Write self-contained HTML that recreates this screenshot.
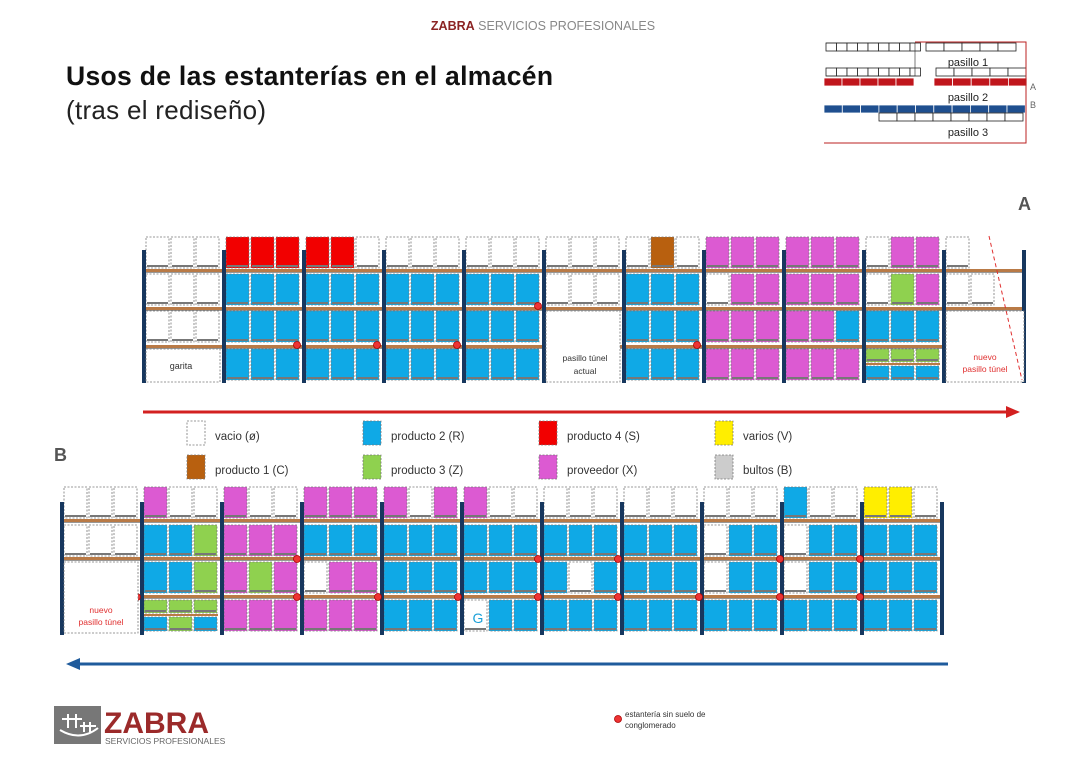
<!DOCTYPE html>
<html><head><meta charset="utf-8"><style>
body{margin:0;background:#fff;}
svg{display:block;font-family:"Liberation Sans","DejaVu Sans",sans-serif;}
</style></head><body>
<svg id="s" width="1086" height="768" viewBox="0 0 1086 768" xmlns="http://www.w3.org/2000/svg">
<text x="543" y="30" text-anchor="middle" font-size="12.5" fill="#888"><tspan fill="#8b2323" font-weight="bold">ZABRA</tspan> SERVICIOS PROFESIONALES</text>
<text x="66" y="85" font-size="26.5" font-weight="bold" fill="#111" textLength="487">Usos de las estanterías en el almacén</text>
<text x="66" y="119" font-size="26" fill="#222" textLength="200">(tras el rediseño)</text>
<g id="mini"></g>
<text x="968" y="66" text-anchor="middle" font-size="11" fill="#222">pasillo 1</text>
<text x="968" y="101" text-anchor="middle" font-size="11" fill="#222">pasillo 2</text>
<text x="968" y="136" text-anchor="middle" font-size="11" fill="#222">pasillo 3</text>
<text x="1030" y="90" font-size="9" fill="#666">A</text>
<text x="1030" y="108" font-size="9" fill="#666">B</text>
<text x="1018" y="210" font-size="18" font-weight="bold" fill="#555">A</text>
<text x="54" y="461" font-size="18" font-weight="bold" fill="#555">B</text>
<g id="racks"></g>
<text x="181" y="369" text-anchor="middle" font-size="9" fill="#333">garita</text>
<text x="585" y="361" text-anchor="middle" font-size="8.5" fill="#333">pasillo túnel</text>
<text x="585" y="374" text-anchor="middle" font-size="8.5" fill="#333">actual</text>
<text x="985" y="360" text-anchor="middle" font-size="8.5" fill="#e03030">nuevo</text>
<text x="985" y="372" text-anchor="middle" font-size="8.5" fill="#e03030">pasillo túnel</text>
<text x="101" y="613" text-anchor="middle" font-size="8.5" fill="#e03030">nuevo</text>
<text x="101" y="625" text-anchor="middle" font-size="8.5" fill="#e03030">pasillo túnel</text>
<text x="478" y="623" text-anchor="middle" font-size="14" fill="#1aa0d8">G</text>
<line x1="143" y1="412" x2="1010" y2="412" stroke="#d32020" stroke-width="3"/>
<polygon points="1020,412 1006,406 1006,418" fill="#d32020"/>
<line x1="78" y1="664" x2="948" y2="664" stroke="#1f5b9c" stroke-width="3"/>
<polygon points="66,664 80,658 80,670" fill="#1f5b9c"/>
<g font-size="11.5" fill="#333">
<text x="215" y="440">vacio (ø)</text><text x="391" y="440">producto 2 (R)</text><text x="567" y="440">producto 4 (S)</text><text x="743" y="440">varios (V)</text>
<text x="215" y="474">producto 1 (C)</text><text x="391" y="474">producto 3 (Z)</text><text x="567" y="474">proveedor (X)</text><text x="743" y="474">bultos (B)</text>
</g>
<text x="625" y="717" font-size="8" fill="#333">estantería sin suelo de</text>
<text x="625" y="728" font-size="8" fill="#333">conglomerado</text>
<circle cx="618" cy="719" r="3.5" fill="#e33" stroke="#a00" stroke-width="0.8"/>
<rect x="54" y="706" width="47" height="38" fill="#777"/>
<path d="M60 730 Q80 742 98 728" stroke="#fff" stroke-width="2" fill="none"/>
<path d="M68 714 v14 M76 714 v14 M62 719 h20 M84 722 v10 M90 722 v10 M80 726 h16" stroke="#fff" stroke-width="2"/>
<text x="104" y="733" font-size="30" font-weight="bold" fill="#9b2a2a">ZABRA</text>
<text x="105" y="744" font-size="8.5" fill="#666">SERVICIOS PROFESIONALES</text>
</svg>
<script>
var NS="http://www.w3.org/2000/svg";
function el(p,t,a){var e=document.createElementNS(NS,t);for(var k in a)e.setAttribute(k,a[k]);p.appendChild(e);return e;}
var R=document.getElementById("racks"),M=document.getElementById("mini");
var C={e:"#fff",b:"#0fa9e6",r:"#f20000",p:"#dc5ad2",g:"#8fd14f",o:"#b8600f",y:"#ffee00",w:"#fff"};
function cell(x,y,w,h,c){
 el(R,"rect",{x:x,y:y,width:w,height:h,fill:C[c],stroke:"#777","stroke-width":0.8,"stroke-dasharray":"2,1.5"});
 el(R,"rect",{x:x+1,y:y+h-3,width:w-2,height:2,fill:"#777"});
}
function rack(px,rows,bays,beamY,postTop,bottom,markers){
 for(var i=0;i<bays.length;i++){
  var x0=px+4+80*i,b=bays[i];
  for(var r=0;r<4;r++){
   var s=b[r]; if(!s||s=="-")continue;
   if(s.length==6){
    for(var k=0;k<3;k++){cell(x0+25*k,rows[r],23,13,s[k]);cell(x0+25*k,rows[r]+17,23,14,s[k+3]);}
    el(R,"rect",{x:x0,y:rows[r]+14,width:74,height:2,fill:"#b97a46"});
    continue;}
   for(var k=0;k<s.length;k++){if(s[k]!=" ")cell(x0+25*k,rows[r],23,31,s[k]);}
  }
 }
 var x2=px+80*bays.length;
 beamY.forEach(function(y){el(R,"rect",{x:px,y:y,width:x2-px+4,height:3,fill:"#b97a46"});el(R,"line",{x1:px,y1:y+3.5,x2:x2+4,y2:y+3.5,stroke:"#333","stroke-width":0.6});});
 for(var i=0;i<=bays.length;i++)el(R,"rect",{x:px+80*i,y:postTop,width:4,height:bottom-postTop,fill:"#17375e"});
 markers.forEach(function(m){el(R,"circle",{cx:m[0],cy:m[1],r:3.5,fill:"#e33",stroke:"#a00","stroke-width":0.8});});
}
var A=[["eee","eee","eee","-"],["rrr","bbb","bbb","bbb"],["rre","bbb","bbb","bbb"],["eee","bbb","bbb","bbb"],["eee","bbb","bbb","bbb"],["eee","eee","-","-"],["eoe","bbb","bbb","bbb"],["ppp","epp","ppp","ppp"],["ppp","ppp","ppb","ppp"],["epp","egp","bbb","gggbbb"],["e","ee","-","-"]];
rack(142,[237,274,311,349],A,[269,307,345],250,383,[[297,345],[377,345],[457,345],[538,306],[697,345]]);
el(R,"rect",{x:146,y:349,width:74,height:33,fill:"#fff",stroke:"#777","stroke-width":0.8,"stroke-dasharray":"2,1.5"});
el(R,"rect",{x:546,y:311,width:74,height:71,fill:"#fff",stroke:"#777","stroke-width":0.8,"stroke-dasharray":"2,1.5"});
el(R,"rect",{x:946,y:311,width:78,height:71,fill:"#fff",stroke:"#777","stroke-width":0.8,"stroke-dasharray":"2,1.5"});
el(R,"line",{x1:989,y1:236,x2:1022,y2:380,stroke:"#e03030","stroke-width":1,"stroke-dasharray":"4,3"});
var B=[["eee","eee","-","-"],["pee","bbg","bbg","gggbgb"],["pee","ppp","pgp","ppp"],["ppp","bbb","epp","ppp"],["pep","bbb","bbb","bbb"],["pee","bbb","bbb","wbb"],["eee","bbb","beb","bbb"],["eee","bbb","bbb","bbb"],["eee","ebb","ebb","bbb"],["bee","ebb","ebb","bbb"],["yye","bbb","bbb","bbb"]];
rack(60,[487,525,562,600],B,[519,557,595],502,635,[[137,597],[297,559],[297,597],[378,597],[458,597],[538,559],[538,597],[618,559],[618,597],[699,597],[780,559],[780,597],[860,559],[860,597]]);
el(R,"rect",{x:64,y:562,width:74,height:71,fill:"#fff",stroke:"#777","stroke-width":0.8,"stroke-dasharray":"2,1.5"});
var L=[[187,421,"e"],[363,421,"b"],[539,421,"r"],[715,421,"y"],[187,455,"o"],[363,455,"g"],[539,455,"p"],[715,455,"#ccc"]];
L.forEach(function(l){el(R,"rect",{x:l[0],y:l[1],width:18,height:24,fill:C[l[2]]||l[2],stroke:"#777","stroke-width":0.8,"stroke-dasharray":"2,1.5"});});
function row(x,y,n,w,h,f){for(var i=0;i<n;i++)el(M,"rect",{x:x+w*i,y:y,width:w,height:h,fill:f,stroke:f=="#fff"?"#222":"#fff","stroke-width":0.8});}
row(826,43,9,10.5,8,"#fff");row(926,43,5,18,8,"#fff");
row(826,68,9,10.5,8,"#fff");row(936,68,5,18,8,"#fff");
row(824,78,5,18,8,"#c0161c");row(934,78,5,18.6,8,"#c0161c");
row(824,105,11,18.3,8,"#1f4f8f");row(879,113,8,18,8,"#fff");
el(M,"path",{d:"M826 43 L915 43 L915 76 L826 76",fill:"none",stroke:"#222","stroke-width":0.6});
el(M,"path",{d:"M915 42 L1026 42 L1026 143 L824 143",fill:"none",stroke:"#b22","stroke-width":1});
</script>
</body></html>
